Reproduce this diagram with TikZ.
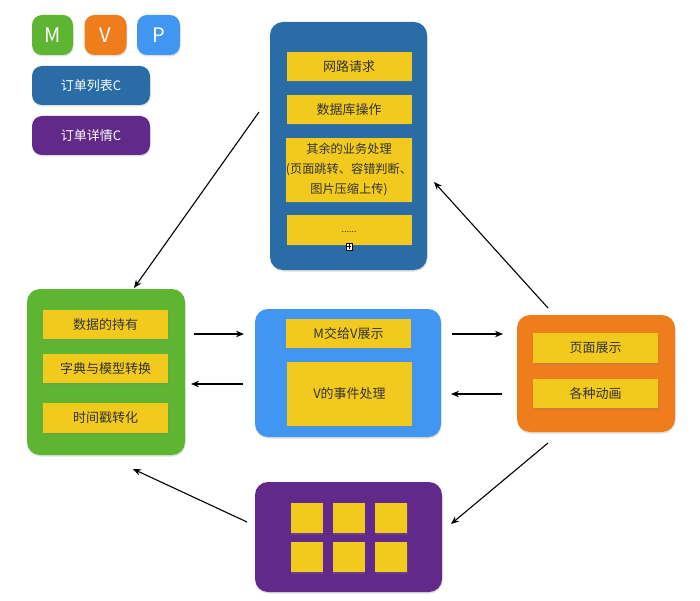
\documentclass[tikz,border=0pt]{standalone}
\usepackage{fontspec}
\setmainfont{Noto Sans CJK SC}
\usetikzlibrary{arrows.meta,shadows}
\definecolor{mgreen}{HTML}{5DB531}
\definecolor{vorange}{HTML}{EF7D1B}
\definecolor{pblue}{HTML}{4196F2}
\definecolor{dblue}{HTML}{2A6DA6}
\definecolor{purp}{HTML}{60298A}
\definecolor{yel}{HTML}{F2CA1E}
\definecolor{txt}{HTML}{333333}
\tikzset{
  shd/.style={drop shadow={opacity=0.25,shadow xshift=0.5pt,shadow yshift=-1.5pt}},
  bigbox/.style={fill=#1,rounded corners=13pt,shd,inner sep=0pt},
  legbox/.style={fill=#1,rounded corners=10pt,shd,inner sep=0pt,text=white,font=\fontsize{13}{15}\selectfont},
  ybox/.style={fill=yel,shd,inner sep=0pt,text=txt,font=\fontsize{13}{20}\selectfont,align=center,minimum width=125pt},
  sq/.style={fill=yel,shd,inner sep=0pt,minimum width=32pt,minimum height=30pt},
  arr/.style={-{Stealth[length=8pt,width=6.5pt]},line width=1.1pt,black}
}
\begin{document}
\begin{tikzpicture}[x=1pt,y=-1pt]
\useasboundingbox (0,0) rectangle (700,601);
% legend
\node[legbox=mgreen,minimum width=41pt,minimum height=40pt,font=\fontsize{20}{22}\selectfont] (lm) at (52.5,35) {M};
\node[legbox=vorange,minimum width=42pt,minimum height=40pt,font=\fontsize{20}{22}\selectfont] (lv) at (105.5,35) {V};
\node[legbox=pblue,minimum width=43pt,minimum height=40pt,font=\fontsize{20}{22}\selectfont] (lp) at (158.5,35) {P};
\node[legbox=dblue,minimum width=118pt,minimum height=39pt] (lc1) at (91,85.5) {订单列表C};
\node[legbox=purp,minimum width=118pt,minimum height=39pt] (lc2) at (91,135.5) {订单详情C};
% top dark blue
\node[bigbox=dblue,minimum width=157pt,minimum height=248pt] (top) at (348.5,146) {};
\node[ybox,minimum height=29pt] (a1) at (349,66.5) {网路请求};
\node[ybox,minimum height=29pt] (a2) at (349,109.5) {数据库操作};
\node[ybox,minimum height=64pt,font=\fontsize{12.2}{20}\selectfont] (a3) at (349,170) {其余的业务处理\\(页面跳转、容错判断、\\图片压缩上传)};
\node[ybox,minimum height=30pt] (a4) at (349,230) {};
\node[text=txt,font=\fontsize{9}{9}\selectfont,inner sep=0pt] (dots) at (349,232) {......};
\node[draw=black,fill=white,line width=0.4pt,minimum size=6.5pt,inner sep=0pt] (plus) at (349,246.5) {};
\draw[line width=0.6pt] ([yshift=-2.2pt]plus.center) -- ([yshift=2.2pt]plus.center);
\draw[line width=0.6pt] ([xshift=-2.2pt]plus.center) -- ([xshift=2.2pt]plus.center);
% green
\node[bigbox=mgreen,minimum width=158pt,minimum height=166pt] (gr) at (106,372) {};
\node[ybox,minimum height=29pt] (g1) at (105.5,324.5) {数据的持有};
\node[ybox,minimum height=29pt] (g2) at (105.5,368.5) {字典与模型转换};
\node[ybox,minimum height=30pt] (g3) at (105.5,418) {时间戳转化};
% light blue
\node[bigbox=pblue,minimum width=186pt,minimum height=128pt] (bl) at (348,373) {};
\node[ybox,minimum height=29pt] (b1) at (348.5,333.5) {M交给V展示};
\node[ybox,minimum height=64pt] (b2) at (349.5,394) {V的事件处理};
% orange
\node[bigbox=vorange,minimum width=158pt,minimum height=117pt] (or) at (596,373.5) {};
\node[ybox,minimum height=30pt] (c1) at (595.5,348) {页面展示};
\node[ybox,minimum height=29pt] (c2) at (595.5,393.5) {各种动画};
% purple
\node[bigbox=purp,minimum width=187pt,minimum height=110pt] (pu) at (348.5,537) {};
\node[sq] (s1) at (306.5,518) {};
\node[sq] (s2) at (348.5,518) {};
\node[sq] (s3) at (391,518) {};
\node[sq] (s4) at (306.5,557) {};
\node[sq] (s5) at (348.5,557) {};
\node[sq] (s6) at (391,557) {};
% arrow endpoints
\coordinate (h1s) at (194,334); \coordinate (h1e) at (244,334);
\coordinate (h2s) at (243,384); \coordinate (h2e) at (191,384);
\coordinate (h3s) at (452,334); \coordinate (h3e) at (503,334);
\coordinate (h4s) at (502,394); \coordinate (h4e) at (451,394);
\coordinate (d1s) at (259,112); \coordinate (d1e) at (134,288);
\coordinate (d2s) at (548,308); \coordinate (d2e) at (434,182);
\coordinate (d3s) at (548,443); \coordinate (d3e) at (451,524);
\coordinate (d4s) at (247,522); \coordinate (d4e) at (133,469);
\draw[arr] (h1s) -- (h1e);
\draw[arr] (h2s) -- (h2e);
\draw[arr] (h3s) -- (h3e);
\draw[arr] (h4s) -- (h4e);
\draw[arr] (d1s) -- (d1e);
\draw[arr] (d2s) -- (d2e);
\draw[arr] (d3s) -- (d3e);
\draw[arr] (d4s) -- (d4e);
\end{tikzpicture}
\end{document}
